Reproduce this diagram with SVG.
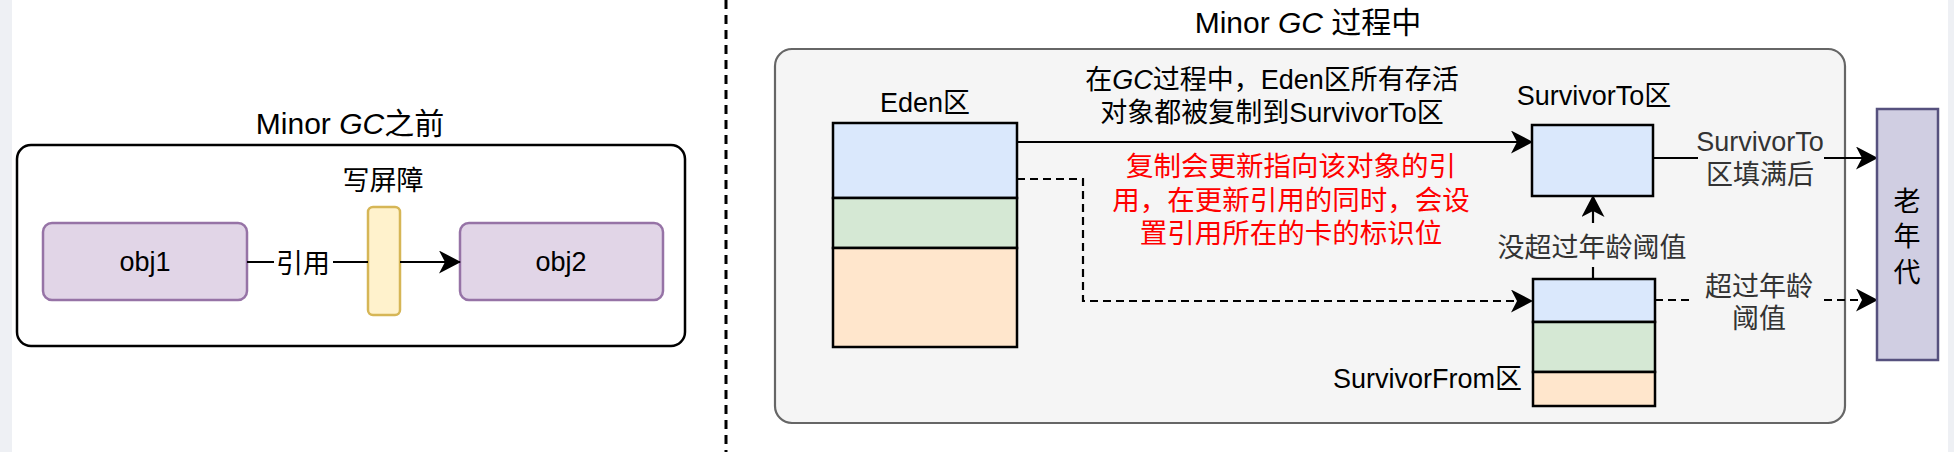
<svg xmlns="http://www.w3.org/2000/svg" width="1954" height="452" viewBox="0 0 1954 452">
  <style>
    text { font-family: "Liberation Sans", "Noto Sans CJK SC", sans-serif; }
    .t { font-size: 27px; fill: #000; text-anchor: middle; }
    .lbl { font-size: 27px; fill: #333; text-anchor: middle; }
    .red { font-size: 27.5px; fill: #ff0000; text-anchor: middle; }
    .ttl { font-size: 30px; fill: #000; text-anchor: middle; }
    .edge { fill: none; stroke: #000; stroke-width: 2.2; }
    .dash { stroke-dasharray: 8 5; }
  </style>
  <defs>
    <marker id="arr" markerUnits="userSpaceOnUse" markerWidth="24" markerHeight="24" refX="21" refY="11.5" orient="auto" viewBox="0 0 24 24">
      <path d="M0,0 L22,11.5 L0,23 L6,11.5 Z" fill="#000"/>
    </marker>
  </defs>

  <rect x="0" y="0" width="1954" height="452" fill="#ffffff"/>
  <rect x="0" y="0" width="12" height="452" fill="#eef0f4"/>
  <rect x="1948" y="0" width="6" height="452" fill="#eef0f4"/>

  <!-- left panel -->
  <g id="left-panel">
    <text class="ttl" x="350" y="134">Minor <tspan font-style="italic">GC</tspan>之前</text>
    <rect x="17" y="145" width="668" height="201" rx="14" fill="#ffffff" stroke="#000" stroke-width="2.5"/>
  </g>
  <g id="obj1">
    <rect x="43" y="223" width="204" height="77" rx="9" fill="#e1d5e7" stroke="#9673a6" stroke-width="2.5"/>
    <text class="t" x="145" y="271" font-size="29">obj1</text>
  </g>
  <g id="write-barrier">
    <text class="t" x="383" y="190" font-size="28">写屏障</text>
    <rect x="368" y="207" width="32" height="108" rx="5" fill="#fff2cc" stroke="#d6b656" stroke-width="2.5"/>
  </g>
  <g id="obj2">
    <rect x="460" y="223" width="203" height="77" rx="9" fill="#e1d5e7" stroke="#9673a6" stroke-width="2.5"/>
    <text class="t" x="561" y="271" font-size="29">obj2</text>
  </g>

  <!-- divider -->
  <line x1="726" y1="0" x2="726" y2="452" stroke="#000" stroke-width="3" stroke-dasharray="9 6"/>

  <!-- right panel container -->
  <g id="gc-container">
    <text class="ttl" x="1308" y="33">Minor <tspan font-style="italic">GC</tspan> 过程中</text>
    <rect x="775" y="49" width="1070" height="374" rx="17" fill="#f5f5f5" stroke="#666666" stroke-width="2.2"/>
  </g>

  <!-- connectors -->
  <g id="connectors">
    <!-- obj1 -> barrier -> obj2 -->
    <line class="edge" x1="247" y1="262" x2="368" y2="262"/>
    <rect x="274" y="244" width="59" height="36" fill="#ffffff"/>
    <text class="t" x="303" y="273" font-size="29">引用</text>
    <line class="edge" x1="400" y1="262" x2="460" y2="262" marker-end="url(#arr)"/>

    <!-- Eden -> SurvivorTo -->
    <line class="edge" x1="1017" y1="142" x2="1532" y2="142" marker-end="url(#arr)"/>
    <!-- Eden -> SurvivorFrom (dashed) -->
    <polyline class="edge dash" points="1017,179 1083,179 1083,301 1532,301" marker-end="url(#arr)"/>

    <!-- SurvivorFrom -> SurvivorTo -->
    <line class="edge" x1="1593" y1="279" x2="1593" y2="196" marker-end="url(#arr)"/>
    <rect x="1492" y="223" width="200" height="44" fill="#f5f5f5"/>
    <text class="lbl" x="1592" y="257">没超过年龄阈值</text>

    <!-- SurvivorTo -> old gen -->
    <line class="edge" x1="1653" y1="158" x2="1877" y2="158" marker-end="url(#arr)"/>
    <rect x="1698" y="130" width="126" height="62" fill="#f5f5f5"/>
    <text class="lbl" x="1760" y="151">SurvivorTo</text>
    <text class="lbl" x="1760" y="184">区填满后</text>

    <!-- SurvivorFrom -> old gen (dashed) -->
    <line class="edge dash" x1="1655" y1="300" x2="1877" y2="300" marker-end="url(#arr)"/>
    <rect x="1694" y="272" width="130" height="62" fill="#f5f5f5"/>
    <text class="lbl" x="1759" y="296">超过年龄</text>
    <text class="lbl" x="1759" y="328">阈值</text>
  </g>

  <!-- texts -->
  <g id="copy-note">
    <text class="t" x="1272" y="89">在<tspan font-style="italic">GC</tspan>过程中，Eden区所有存活</text>
    <text class="t" x="1272" y="122">对象都被复制到SurvivorTo区</text>
  </g>
  <g id="card-note">
    <text class="red" x="1291" y="176">复制会更新指向该对象的引</text>
    <text class="red" x="1291" y="210">用，在更新引用的同时，会设</text>
    <text class="red" x="1291" y="243">置引用所在的卡的标识位</text>
  </g>

  <g id="eden">
    <text class="t" x="925" y="112">Eden区</text>
    <rect x="833" y="123" width="184" height="75" fill="#dae8fc" stroke="#000" stroke-width="2.5"/>
    <rect x="833" y="198" width="184" height="50" fill="#d5e8d4" stroke="#000" stroke-width="2.5"/>
    <rect x="833" y="248" width="184" height="99" fill="#ffe6cc" stroke="#000" stroke-width="2.5"/>
  </g>

  <g id="survivor-to">
    <text class="t" x="1594" y="105">SurvivorTo区</text>
    <rect x="1532" y="125" width="121" height="71" fill="#dae8fc" stroke="#000" stroke-width="2.5"/>
  </g>

  <g id="survivor-from">
    <text class="t" x="1522" y="388" style="text-anchor:end">SurvivorFrom区</text>
    <rect x="1533" y="279" width="122" height="43" fill="#dae8fc" stroke="#000" stroke-width="2.5"/>
    <rect x="1533" y="322" width="122" height="50" fill="#d5e8d4" stroke="#000" stroke-width="2.5"/>
    <rect x="1533" y="372" width="122" height="34" fill="#ffe6cc" stroke="#000" stroke-width="2.5"/>
  </g>

  <g id="old-gen">
    <rect x="1877" y="109" width="61" height="251" fill="#d0cee2" stroke="#56517e" stroke-width="2.5"/>
    <text class="t" x="1907" y="211" font-size="28">老</text>
    <text class="t" x="1907" y="246" font-size="28">年</text>
    <text class="t" x="1907" y="282" font-size="28">代</text>
  </g>
</svg>
